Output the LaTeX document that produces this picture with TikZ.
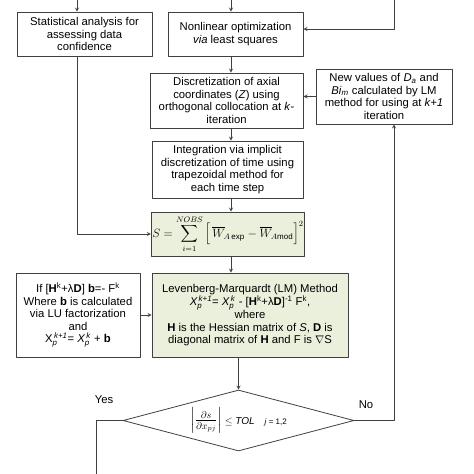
\documentclass[tikz,border=0pt]{standalone}
\usepackage{amsmath}
\usepackage{fontspec}
\setmainfont{Liberation Sans}
\usetikzlibrary{shapes.geometric}
\definecolor{boxgreen}{RGB}{235,240,220}
\definecolor{linegray}{RGB}{64,64,64}
\newcommand{\subsup}[3]{$#1_{\text{#2}}^{\,\text{#3}}$}
\begin{document}
\begin{tikzpicture}[x=1pt,y=-1pt,>=stealth, line join=round,
	font=\fontsize{11.3}{12.6}\selectfont,
	box/.style={draw=linegray, thick, rectangle, align=center, inner sep=1pt},
	greenbox/.style={box, fill=boxgreen},
	link/.style={draw=linegray, thick}]
		\useasboundingbox (0,0) rectangle (474,474);
		\def\xc{231} % cột giữa
		% Các hộp
		\node[box, minimum width=135, minimum height=44] (stat) at (84.5,34) {Statistical analysis for\\assessing data\\confidence};
		\node[box, minimum width=135, minimum height=44] (nonlin) at (235.5,34) {Nonlinear optimization\\\textit{via} least squares};
		\node[box, minimum width=153, minimum height=55] (discr) at (226.5,100.5) {Discretization of axial\\coordinates (\textit{Z}) using\\orthogonal collocation at \textit{k}-\\iteration};
		\node[box, minimum width=136, minimum height=55] (newval) at (384,96.5) {New values of \textit{D}\textsubscript{\textit{a}} and\\\textit{Bi}\textsubscript{\textit{m}} calculated by LM\\method for using at \textit{k+1}\\iteration};
		\node[box, minimum width=151, minimum height=57] (integ) at (227.5,169.5) {Integration via implicit\\discretization of time using\\trapezoidal method for\\each time step};
		\node[greenbox, minimum width=150, minimum height=44] (sbox) at (228,234) {\large $S=\displaystyle\sum_{i=1}^{NOBS}\Big[\,\overline{W}_{\!A\exp}-\overline{W}_{\!A\mathrm{mod}}\Big]^2$};
		\node[greenbox, minimum width=196, minimum height=84] (lm) at (250,315) {Levenberg-Marquardt (LM) Method\\\subsup{\textit{X}}{\textit{p}}{\textit{k+1}}= \subsup{\textit{X}}{\textit{p}}{\textit{k}} - [\textbf{H}\textsuperscript{k}+λ\textbf{D}]\textsuperscript{-1} F\textsuperscript{k},\\where\\\textbf{H} is the Hessian matrix of \textit{S}, \textbf{D} is\\diagonal matrix of \textbf{H} and F is $\nabla$S};
		\node[box, minimum width=124, minimum height=84] (ifbox) at (78,315) {If [\textbf{H}\textsuperscript{k}+λ\textbf{D}] \textbf{b}=- F\textsuperscript{k}\\Where \textbf{b} is calculated\\via LU factorization\\and\\\subsup{\text{X}}{\textit{p}}{\textit{k+1}}= \subsup{\textit{X}}{\textit{p}}{\textit{k}} + \textbf{b}};
		\node[draw=linegray, thick, diamond, aspect=3.8, minimum width=231, minimum height=61, inner sep=0pt] (dia) at (238.5,420.5) {\Large$\left|\frac{\partial s}{\partial x_{pj}}\right|$\normalsize$\;\leq$ \textit{TOL}\quad{\footnotesize\textit{j} = 1,2}};
		% Điểm phụ
		\coordinate (col) at (\xc,0);
		\coordinate (topL) at (77,0);
		\coordinate (topR) at (394,0);
		\coordinate (yesEnd) at (96,474);
		% Mũi tên
		\draw[link,->] (topL) -- (topL |- stat.north);
		\draw[link,->] (col) -- (col |- nonlin.north);
		\draw[link,->] (topR) |- ([yshift=5pt]nonlin.east);
		\draw[link,->] (nonlin.south -| col) -- (discr.north -| col);
		\draw[link,->] (newval.west) -- (newval.west -| discr.east);
		\draw[link,->] (discr.south -| col) -- (integ.north -| col);
		\draw[link,->] (integ.south -| col) -- (sbox.north -| col);
		\draw[link,->] (stat.south -| topL) |- (sbox.west);
		\draw[link,->] (sbox.south -| col) -- (lm.north -| col);
		\draw[link,->] (ifbox.east) -- (lm.west);
		\draw[link,->] (lm.south -| dia.north) -- (dia.north);
		\draw[link,->] (dia.east) -| (topR |- newval.south);
		\draw[link] (dia.west) -| (yesEnd);
		\node at (104,400) {Yes};
		\node at (366,405) {No};
\end{tikzpicture}
\end{document}
